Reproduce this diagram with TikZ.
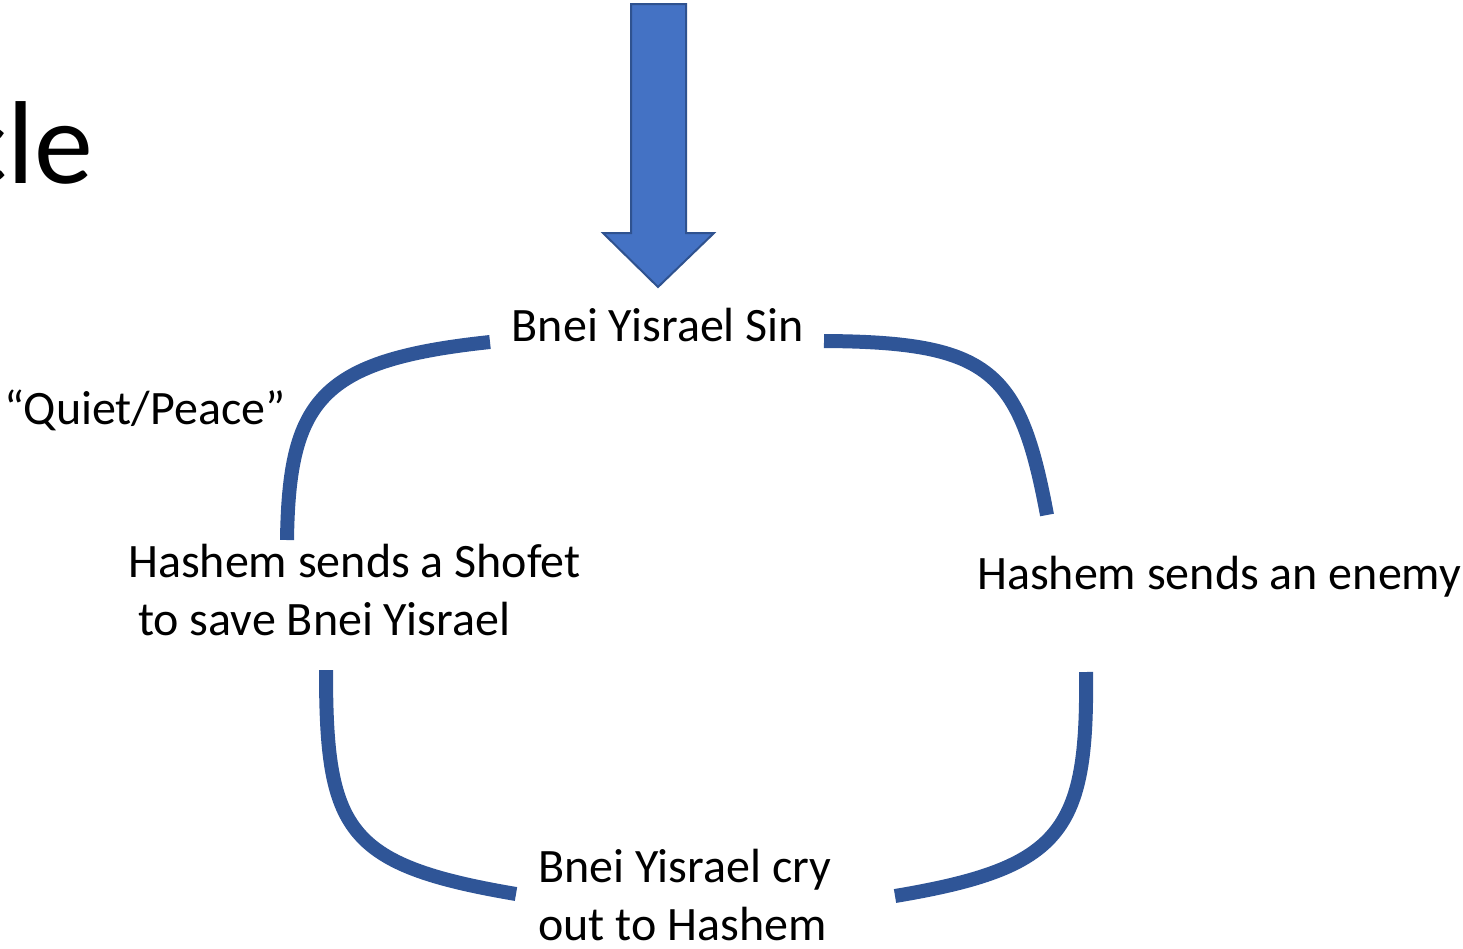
\documentclass[tikz,border=0pt]{standalone}
\usepackage{fontspec}
\setmainfont{Carlito}
\begin{document}
\begin{tikzpicture}[x=1pt,y=-1pt,
  lbl/.style={inner sep=0pt, font=\fontsize{48}{58}\selectfont},
  cycleline/.style={draw=curveblue, line width=14pt},
  ]
\definecolor{arrowfill}{HTML}{4472C4}
\definecolor{arrowedge}{HTML}{2F528F}
\definecolor{curveblue}{HTML}{2F5597}
\useasboundingbox (0,0) rectangle (1463,948);

% title fragment
\node[inner sep=0pt, anchor=base east, font=\fontsize{118}{130}\selectfont] (title) at (93,183) {cle};

% big down arrow
\draw[fill=arrowfill, draw=arrowedge, line width=2pt, line join=miter]
  (631,4) -- (686,4) -- (686,233) -- (714,233) -- (658,287) -- (603,233) -- (631,233) -- cycle;
\coordinate (arrowtip) at (658,287);

% labels
\node[lbl, anchor=base] (sin) at (658,341) {Bnei Yisrael Sin};
\node[lbl, anchor=base west] (quiet) at (4,424) {“Quiet/Peace”};
\node[lbl, anchor=base west, align=left] (shofet) at (128,635) {Hashem sends a Shofet\\\hspace*{10pt}to save Bnei Yisrael};
\node[lbl, anchor=base west] (enemy) at (977,589) {Hashem sends an enemy};
\node[lbl, anchor=base west, align=left] (cry) at (538,940) {Bnei Yisrael cry\\out to Hashem};

% curve end points
\coordinate (a1) at (490,342);
\coordinate (a2) at (287,540);
\coordinate (b1) at (824,341);
\coordinate (b2) at (1047,515);
\coordinate (c1) at (326,670);
\coordinate (c2) at (516,894);
\coordinate (d1) at (1086,672);
\coordinate (d2) at (895,896);

\draw[cycleline] (a1) .. controls (320,360) and (289,400) .. (a2);
\draw[cycleline] (b1) .. controls (990,342) and (1020,370) .. (b2);
\draw[cycleline] (c1) .. controls (326,830) and (345,865) .. (c2);
\draw[cycleline] (d1) .. controls (1088,832) and (1062,868) .. (d2);
\end{tikzpicture}
\end{document}
